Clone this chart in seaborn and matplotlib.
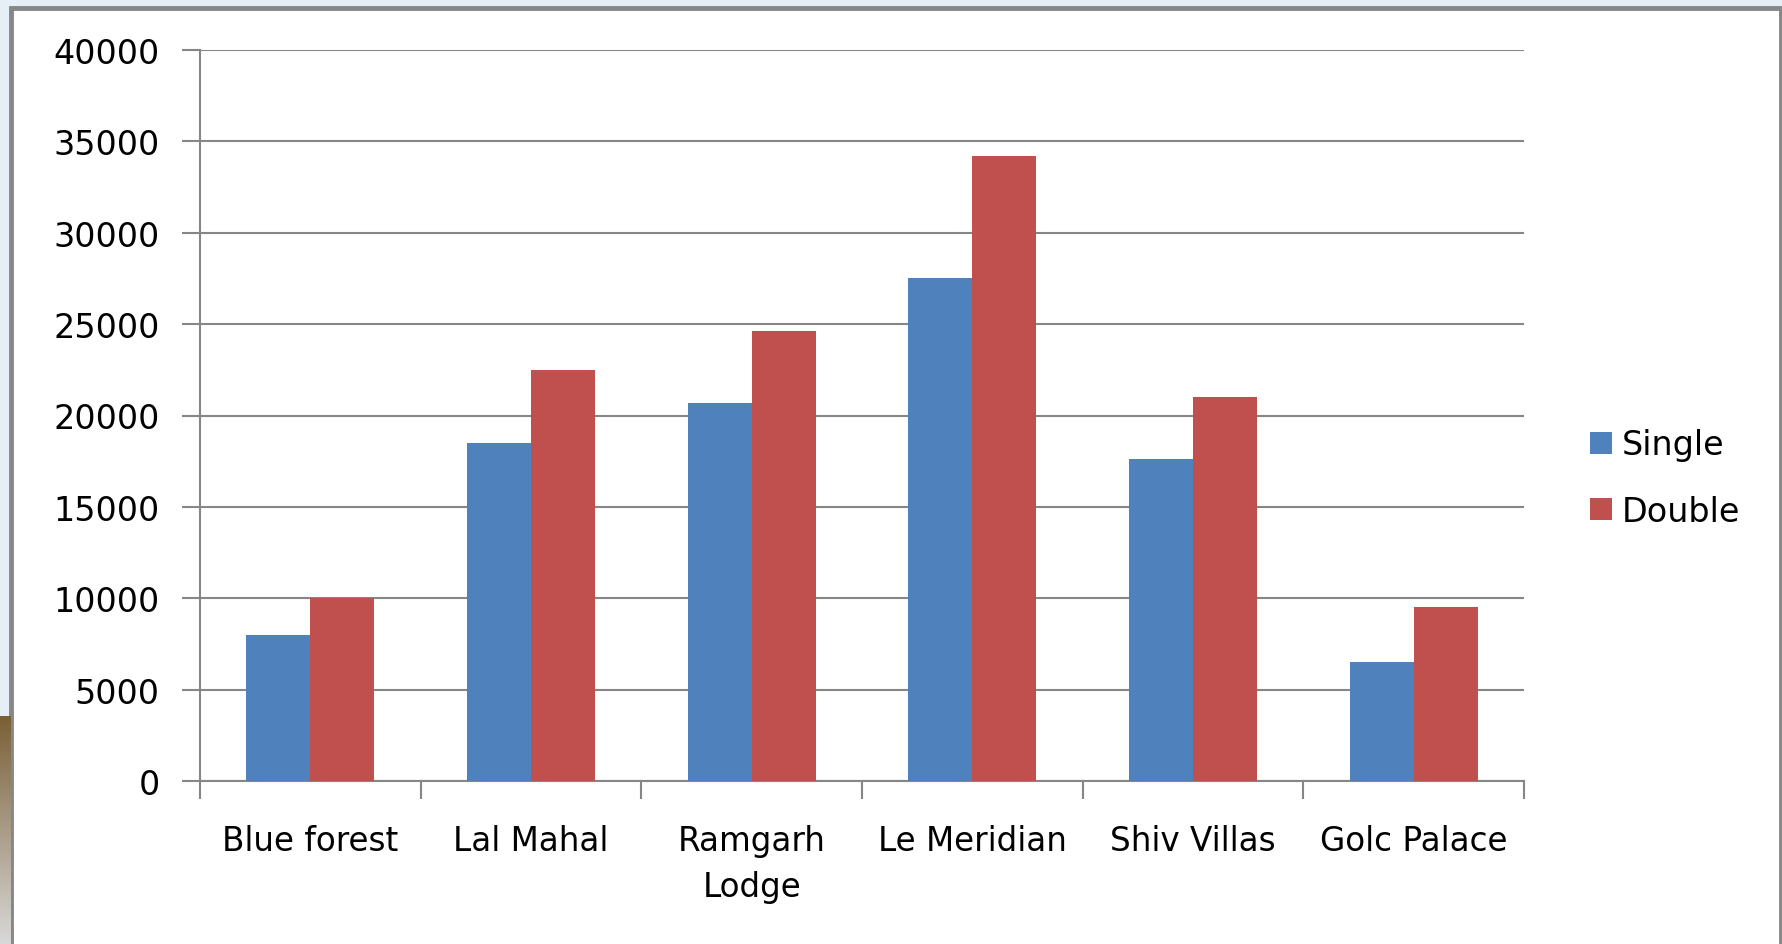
import matplotlib
matplotlib.use("Agg")
import matplotlib.pyplot as plt
import matplotlib.patches as mpatches
import numpy as np
import pandas as pd
import seaborn as sns

# chart data
hotels = ["Blue forest", "Lal Mahal", "Ramgarh\nLodge", "Le Meridian", "Shiv Villas", "Golc Palace"]
single = [8000, 18500, 20700, 27500, 17600, 6500]
double = [10000, 22500, 24650, 34200, 21000, 9500]
series = ["Single", "Double"]
colors = {"Single": "#4F81BD", "Double": "#C0504D"}
y_ticks = [0, 5000, 10000, 15000, 20000, 25000, 30000, 35000, 40000]

df = pd.DataFrame({
    "hotel": hotels * 2,
    "type": ["Single"] * len(hotels) + ["Double"] * len(hotels),
    "price": single + double,
})

sns.set_style("white")
plt.rcParams["font.family"] = ["DejaVu Sans"]
plt.rcParams["text.color"] = "black"

W, H = 1783, 945
fig = plt.figure(figsize=(W / 100, H / 100), dpi=100)
fig.patch.set_facecolor("#e6eef6")

# left strip background gradient (brownish lower part)
strip = fig.add_axes([0, 0, 11 / W, 1 - 717 / H])
grad = np.linspace(0, 1, 100).reshape(-1, 1)
strip.imshow(grad, aspect="auto", cmap=matplotlib.colors.LinearSegmentedColormap.from_list(
    "b", ["#d8d8d8", "#7a6036"]), origin="lower")
strip.axis("off")

# white chart area with grey border, kept behind the axes
fig.patches.append(mpatches.Rectangle((11 / W, -0.05), (1781 - 11) / W, 1.05 - 9 / H,
                                      transform=fig.transFigure, facecolor="white",
                                      edgecolor="#878787", linewidth=3.5, zorder=-10))

ax = fig.add_axes([200 / W, 1 - 782 / H, (1524 - 200) / W, (782 - 51) / H])
ax.set_zorder(5)
ax.set_facecolor("none")

sns.barplot(data=df, x="hotel", y="price", hue="type", hue_order=series,
            palette=colors, width=0.58, gap=0, saturation=1, linewidth=0,
            ax=ax, zorder=3)

ax.set_ylim(0, 40000)
ax.set_xlim(-0.5, len(hotels) - 0.5)
ax.set_yticks(y_ticks)
ax.set_yticklabels([str(v) for v in y_ticks])
ax.yaxis.grid(True, color="#868686", linewidth=1.5, zorder=0)
ax.set_axisbelow(True)

# tick marks at category boundaries
ax.set_xticks(np.arange(-0.5, len(hotels), 1), minor=True)
ax.tick_params(axis="x", which="major", bottom=True, length=0, pad=31, labelsize=23.5,
               labelcolor="black")
ax.tick_params(axis="x", which="minor", bottom=True, length=13, width=1.5, color="#868686",
               direction="out")
ax.tick_params(axis="y", left=True, length=13, width=1.5, color="#868686", pad=16,
               labelsize=24, labelcolor="black", direction="out")
for lab in ax.get_xticklabels():
    lab.set_linespacing(1.5)

for side in ["top", "right"]:
    ax.spines[side].set_visible(False)
for side in ["left", "bottom"]:
    ax.spines[side].set_color("#868686")
    ax.spines[side].set_linewidth(1.5)

ax.set_xlabel("")
ax.set_ylabel("")

handles = [mpatches.Patch(facecolor=colors[s], edgecolor="none", label=s) for s in series]
ax.legend(handles=handles, loc="center left", bbox_to_anchor=(1560 / W, 1 - 479 / H),
          bbox_transform=fig.transFigure, frameon=False, fontsize=24,
          handlelength=0.65, handleheight=0.65, handletextpad=0.3, labelspacing=1.0)

fig.savefig("out.png", dpi=100)
